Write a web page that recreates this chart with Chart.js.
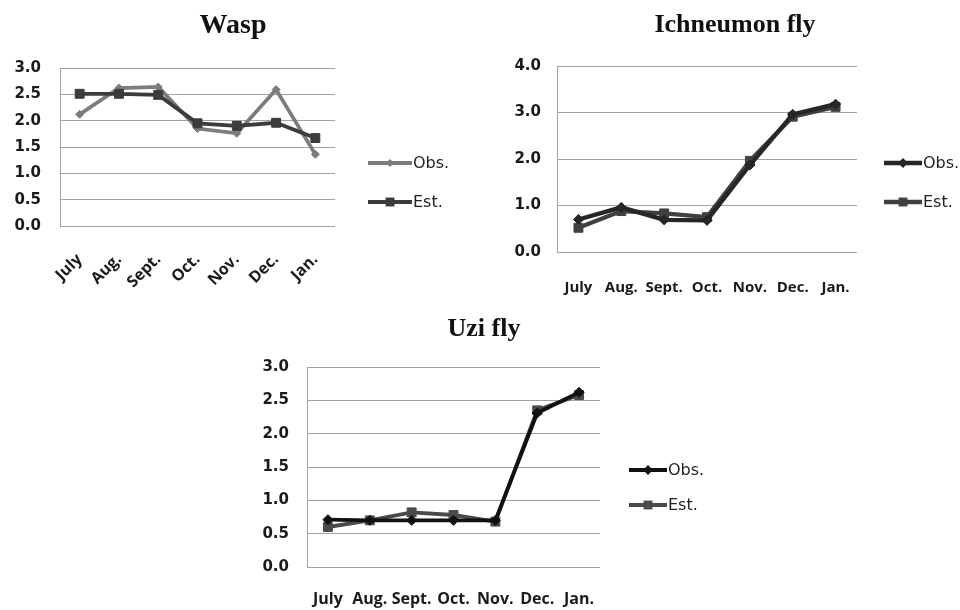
<!DOCTYPE html>
<html>
<head>
<meta charset="utf-8">
<script src="https://cdn.jsdelivr.net/npm/chart.js@4.4.1/dist/chart.umd.min.js"></script>
<style>
  html, body { margin: 0; padding: 0; background: #fff; }
  body { width: 960px; height: 610px; position: relative; overflow: hidden; }
  canvas { position: absolute; }
</style>
</head>
<body>
<canvas id="wasp" style="left:0px;top:0px;"></canvas>
<canvas id="ich" style="left:480px;top:0px;"></canvas>
<canvas id="uzi" style="left:250px;top:300px;"></canvas>
<script>
// ---------- data ----------
const months = ['July', 'Aug.', 'Sept.', 'Oct.', 'Nov.', 'Dec.', 'Jan.'];
const seriesLabels = ['Obs.', 'Est.'];

const waspObs = [2.12, 2.62, 2.64, 1.85, 1.76, 2.59, 1.36];
const waspEst = [2.51, 2.51, 2.49, 1.95, 1.90, 1.96, 1.67];

const ichObs = [0.70, 0.96, 0.69, 0.68, 1.87, 2.96, 3.18];
const ichEst = [0.52, 0.88, 0.83, 0.75, 1.96, 2.91, 3.12];

const uziObs = [0.71, 0.70, 0.70, 0.70, 0.70, 2.31, 2.62];
const uziEst = [0.60, 0.70, 0.82, 0.78, 0.68, 2.35, 2.58];

const waspTitle = 'Wasp';
const ichTitle = 'Ichneumon fly';
const uziTitle = 'Uzi fly';

// ---------- drawing helpers ----------
function drawMarker(ctx, style, x, y, r, color) {
  ctx.fillStyle = color;
  ctx.beginPath();
  if (style === 'rect') {
    const s = Math.SQRT1_2 * r;
    ctx.rect(x - s, y - s, 2 * s, 2 * s);
  } else {
    ctx.moveTo(x, y - r); ctx.lineTo(x + r, y); ctx.lineTo(x, y + r); ctx.lineTo(x - r, y);
    ctx.closePath();
  }
  ctx.fill();
}

const decor = {
  id: 'decor',
  afterDraw(chart, args, o) {
    const ctx = chart.ctx;
    ctx.save();
    ctx.font = 'bold ' + o.titleSize + 'px "Liberation Serif", "Times New Roman", serif';
    ctx.fillStyle = '#111';
    ctx.textAlign = 'center';
    ctx.textBaseline = 'alphabetic';
    ctx.fillText(o.title, o.titleX, o.titleY);
    chart.data.datasets.forEach((ds, i) => {
      const y = o.legY[i];
      ctx.strokeStyle = ds.borderColor;
      ctx.lineWidth = ds.borderWidth;
      ctx.beginPath(); ctx.moveTo(o.legX1, y); ctx.lineTo(o.legX2, y); ctx.stroke();
      drawMarker(ctx, ds.pointStyle, (o.legX1 + o.legX2) / 2, y, ds.pointRadius, ds.pointBackgroundColor);
      ctx.font = '16px "DejaVu Sans", sans-serif';
      ctx.fillStyle = '#222';
      ctx.textAlign = 'left';
      ctx.textBaseline = 'middle';
      ctx.fillText(ds.label, o.legX2 + 1, y + 1);
    });
    ctx.restore();
  }
};

function makeChart(id, cfg) {
  const el = document.getElementById(id);
  el.width = cfg.w; el.height = cfg.h;
  el.style.width = cfg.w + 'px'; el.style.height = cfg.h + 'px';
  const ds = (label, data, color, style, radius, order) => ({
    label, data, borderColor: color, backgroundColor: color,
    pointBackgroundColor: color, pointBorderColor: color,
    borderWidth: cfg.lineW, pointStyle: style, pointRadius: radius, pointBorderWidth: 1,
    tension: 0, fill: false, order
  });
  return new Chart(el, {
    type: 'line',
    data: {
      labels: months,
      datasets: [
        ds(seriesLabels[0], cfg.obs, cfg.obsColor, 'rectRot', cfg.obsR, cfg.obsOrder),
        ds(seriesLabels[1], cfg.est, cfg.estColor, 'rect', cfg.estR, cfg.estOrder)
      ]
    },
    options: {
      responsive: false,
      animation: false,
      devicePixelRatio: 1,
      events: [],
      layout: { padding: cfg.pad },
      plugins: {
        legend: { display: false },
        tooltip: { enabled: false },
        title: { display: false },
        decor: cfg.decor
      },
      scales: {
        x: {
          offset: true,
          grid: { display: false, drawTicks: false },
          border: { display: false },
          ticks: {
            autoSkip: false,
            minRotation: cfg.rot, maxRotation: cfg.rot,
            padding: cfg.xPad,
            color: '#1a1a1a',
            font: { family: '"Open Sans", sans-serif', weight: 'bold', size: cfg.xFont }
          },
          afterFit(s) { s.height = cfg.xH; }
        },
        y: {
          min: 0, max: cfg.max,
          grid: { color: '#a3a3a3', lineWidth: 1, drawTicks: false },
          border: { display: true, color: '#a3a3a3', width: 1 },
          ticks: {
            stepSize: cfg.step,
            padding: cfg.yPad,
            color: '#1a1a1a',
            font: { family: '"DejaVu Sans", sans-serif', weight: 'bold', size: 15 },
            callback: v => Number(v).toFixed(1)
          },
          afterFit(s) { s.width = cfg.yW; }
        }
      }
    },
    plugins: [decor]
  });
}

makeChart('wasp', {
  w: 470, h: 300, obs: waspObs, est: waspEst,
  obsColor: '#7c7c7c', estColor: '#3c3c3c', obsR: 4, estR: 6.3, obsOrder: 1, estOrder: 0,
  lineW: 3.8, max: 3, step: 0.5, rot: 45, xPad: 24, xFont: 16, xH: 74, yW: 55, yPad: 19,
  pad: { left: 5, right: 135, top: 68, bottom: 0 },
  decor: { title: waspTitle, titleSize: 28, titleX: 233, titleY: 33, legX1: 368, legX2: 412, legY: [163, 202] }
});

makeChart('ich', {
  w: 480, h: 300, obs: ichObs, est: ichEst,
  obsColor: '#262626', estColor: '#404040', obsR: 5, estR: 6.3, obsOrder: 0, estOrder: 1,
  lineW: 4.3, max: 4, step: 1, rot: 0, xPad: 27, xFont: 15, xH: 48, yW: 70, yPad: 16,
  pad: { left: 7, right: 103, top: 66, bottom: 0 },
  decor: { title: ichTitle, titleSize: 26, titleX: 255, titleY: 32, legX1: 404, legX2: 442, legY: [163, 202] }
});

makeChart('uzi', {
  w: 500, h: 310, obs: uziObs, est: uziEst,
  obsColor: '#111111', estColor: '#4a4a4a', obsR: 5, estR: 6.3, obsOrder: 0, estOrder: 1,
  lineW: 3.8, max: 3, step: 0.5, rot: 0, xPad: 23, xFont: 16, xH: 43, yW: 50, yPad: 18,
  pad: { left: 7, right: 150, top: 67, bottom: 0 },
  decor: { title: uziTitle, titleSize: 26, titleX: 234, titleY: 36, legX1: 379, legX2: 417, legY: [170, 205] }
});
</script>
</body>
</html>
